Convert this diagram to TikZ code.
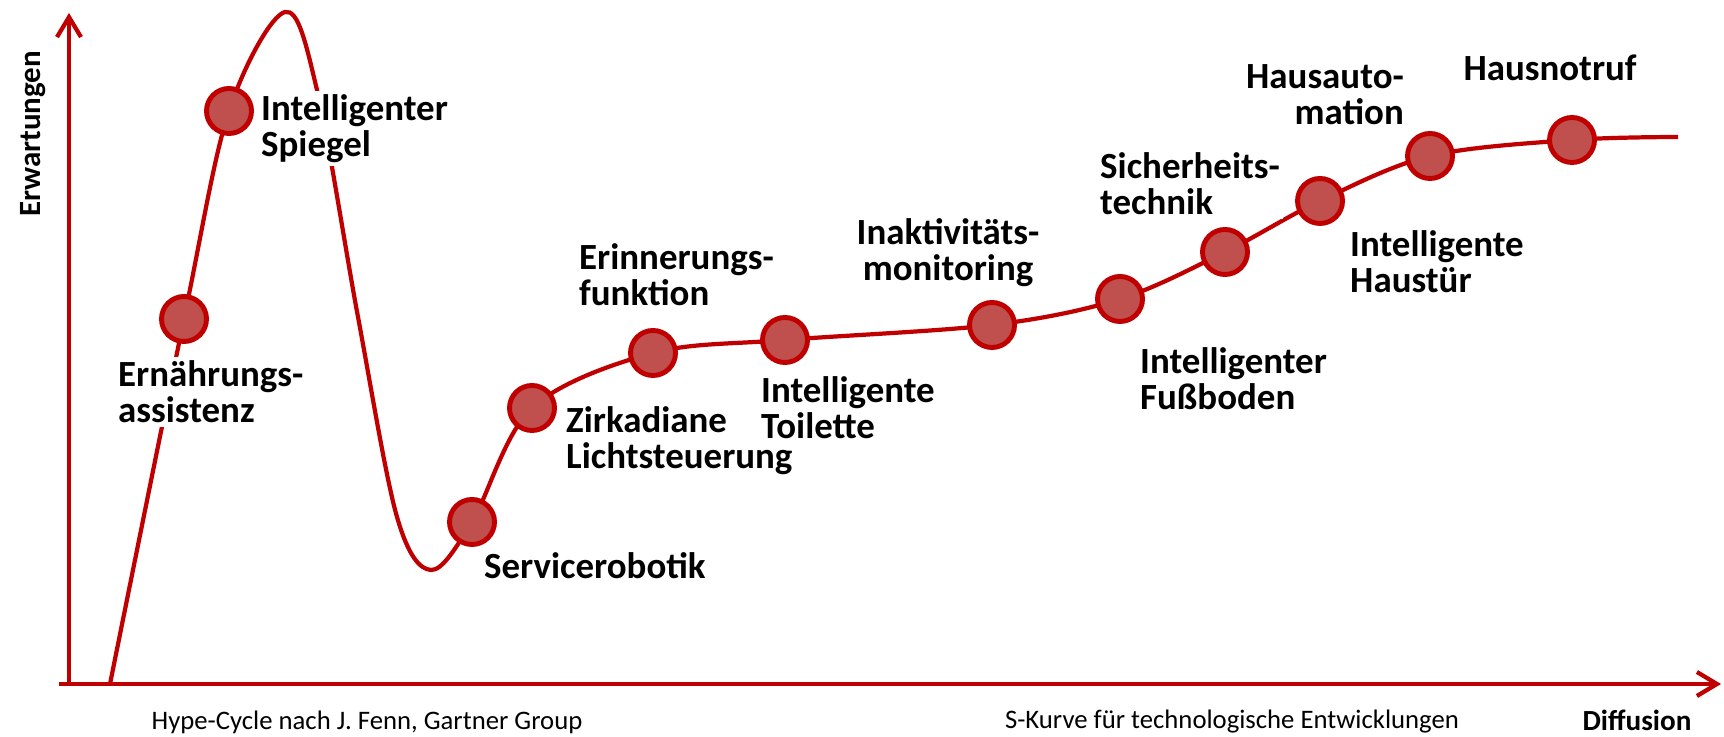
\documentclass[tikz,border=0pt]{standalone}
\usepackage{fontspec}
\setmainfont{Carlito}
\usetikzlibrary{arrows.meta}

\definecolor{hcred}{RGB}{192,0,0}
\definecolor{hcdot}{RGB}{192,80,77}

\begin{document}
\begin{tikzpicture}[
  axis/.style={draw=hcred, line width=1.2pt,
    -{Straight Barb[length=2mm, width=2.4mm, line width=1.2pt]}},
  curve/.style={draw=hcred, line width=1.2pt},
  dot/.style={circle, draw=hcred, fill=hcdot, line width=1.4pt,
    minimum size=0.45cm, inner sep=0pt},
  lbl/.style={font=\fontsize{10.5}{10.2}\selectfont\bfseries,
    fill=white, inner sep=1pt},
  foot/.style={font=\fontsize{7.6}{9}\selectfont, inner sep=0pt}
]
\useasboundingbox (0,0) rectangle (17.24,7.37);

%% ── Axes ─────────────────────────────────────────────────────
\coordinate (o)    at (0.69, 0.53);
\coordinate (ytop) at (0.69, 7.24);
\coordinate (xend) at (17.21, 0.53);
\draw[axis] (o) -- (ytop);
\draw[axis] ([xshift=-0.1cm]o) -- (xend);

\node[font=\fontsize{8.8}{9}\selectfont\bfseries, rotate=90, inner sep=0pt]
  (ylab) at (0.33, 6.03) {Erwartungen};
\node[font=\fontsize{8.3}{9}\selectfont\bfseries, inner sep=0pt]
  (xlab) at (16.37, 0.17) {Diffusion};

%% ── Points on the curve ──────────────────────────────────────
\coordinate (c0)  at (1.10, 0.53);
\coordinate (ern) at (1.84, 4.18);
\coordinate (spi) at (2.29, 6.26);
\coordinate (top) at (2.85, 7.25);
\coordinate (d1)  at (3.17, 6.47);
\coordinate (d2)  at (3.58, 4.20);
\coordinate (d3)  at (3.97, 2.20);
\coordinate (low) at (4.31, 1.67);
\coordinate (ser) at (4.72, 2.15);
\coordinate (zir) at (5.32, 3.29);
\coordinate (eri) at (6.53, 3.84);
\coordinate (toi) at (7.85, 3.97);
\coordinate (ina) at (9.92, 4.12);
\coordinate (fus) at (11.20, 4.38);
\coordinate (sic) at (12.25, 4.85);
\coordinate (hst) at (13.20, 5.36);
\coordinate (hau) at (14.30, 5.81);
\coordinate (not) at (15.72, 5.97);
\coordinate (c1)  at (16.78, 6.00);

\draw[curve] plot[smooth, tension=0.55] coordinates {
  (c0) (ern) (spi) (top) (d1) (d2) (d3) (low) (ser) (zir)
  (eri) (toi) (ina) (fus) (sic) (hst) (hau) (not) (c1)};

%% ── Technologies ─────────────────────────────────────────────
\foreach \p in {ern, spi, ser, zir, eri, toi, ina, fus, sic, hst, hau, not}
  \node[dot] (n-\p) at (\p) {};

\node[lbl, anchor=west, align=left] (l-ern) at (1.14, 3.45) {Ernährungs-\\assistenz};
\node[lbl, anchor=west, align=left] (l-spi) at (2.57, 6.08) {Intelligenter\\Spiegel};
\node[lbl, anchor=west, align=left] (l-ser) at (4.80, 1.71) {Servicerobotik};
\node[lbl, anchor=west, align=left] (l-zir) at (5.62, 2.96) {Zirkadiane\\Lichtsteuerung};
\node[lbl, anchor=west, align=left] (l-eri) at (5.75, 4.62) {Erinnerungs-\\funktion};
\node[lbl, anchor=west, align=left] (l-toi) at (7.57, 3.29) {Intelligente\\Toilette};
\node[lbl, align=center]            (l-ina) at (9.48, 4.84) {Inaktivitäts-\\monitoring};
\node[lbl, anchor=west, align=left] (l-fus) at (11.36, 3.58) {Intelligenter\\Fußboden};
\node[lbl, anchor=west, align=left] (l-sic) at (10.96, 5.53) {Sicherheits-\\technik};
\node[lbl, anchor=west, align=left] (l-hst) at (13.46, 4.75) {Intelligente\\Haustür};
\node[lbl, anchor=east, align=right] (l-hau) at (14.08, 6.42) {Hausauto-\\mation};
\node[lbl]                          (l-not) at (15.50, 6.69) {Hausnotruf};

%% ── Sources ──────────────────────────────────────────────────
\node[foot] (src1) at (3.67, 0.15) {Hype-Cycle nach J. Fenn, Gartner Group};
\node[foot] (src2) at (12.32, 0.15) {S-Kurve für technologische Entwicklungen};

\end{tikzpicture}
\end{document}
